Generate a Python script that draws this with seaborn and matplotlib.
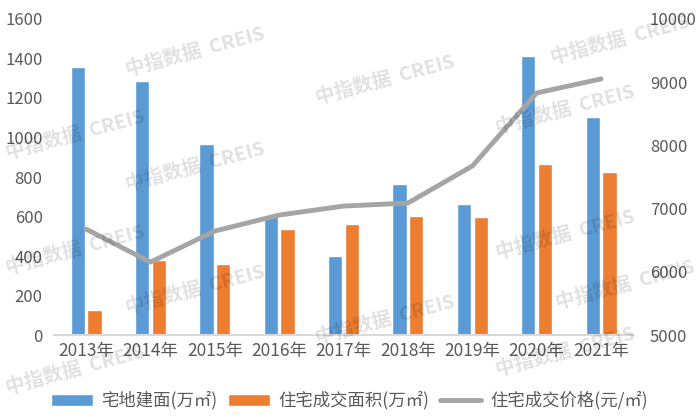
import pandas as pd
import seaborn as sns
import matplotlib.pyplot as plt
from matplotlib.patches import Patch
from matplotlib.lines import Line2D

# 数据
anos = ['2013年', '2014年', '2015年', '2016年', '2017年', '2018年', '2019年', '2020年', '2021年']
zhaidi_jianmian = [1357, 1286, 967, 608, 400, 765, 663, 1413, 1104]
zhuzhai_mianji = [127, 380, 360, 537, 562, 602, 598, 866, 825]
zhuzhai_jiage = [6677, 6155, 6646, 6899, 7041, 7089, 7674, 8829, 9051]

nome_a = '宅地建面(万㎡)'
nome_b = '住宅成交面积(万㎡)'
nome_c = '住宅成交价格(元/㎡)'

df = pd.DataFrame({
    'ano': anos * 2,
    'valor': zhaidi_jianmian + zhuzhai_mianji,
    'serie': [nome_a] * len(anos) + [nome_b] * len(anos),
})

sns.set_theme(style='white')
plt.rcParams['font.family'] = ['Noto Sans CJK SC', 'DejaVu Sans']

cor_azul = '#5B9BD5'
cor_laranja = '#ED7D31'
cor_cinza = '#A5A5A5'
cor_texto = '#595959'

fig = plt.figure(figsize=(6.99, 4.19), dpi=100)
ax = fig.add_axes([0.077, 0.2, 0.829, 0.755])

sns.barplot(data=df, x='ano', y='valor', hue='serie', palette=[cor_azul, cor_laranja],
            width=0.52, gap=0.15, ax=ax, legend=False, saturation=1)
ax.set_ylim(0, 1600)
ax.set_yticks(range(0, 1601, 200))
ax.set_xlim(-0.5, 8.5)
ax.set_xlabel('')
ax.set_ylabel('')

ax2 = ax.twinx()
sns.lineplot(x=list(range(len(anos))), y=zhuzhai_jiage, color=cor_cinza, linewidth=3.5, ax=ax2)
ax2.set_ylim(5000, 10000)
ax2.set_yticks(range(5000, 10001, 1000))
ax2.set_ylabel('')

for a in (ax, ax2):
    for s in a.spines.values():
        s.set_visible(False)
    a.tick_params(axis='both', length=0, labelsize=12, colors=cor_texto)
ax.tick_params(axis='x', labelsize=12.5, pad=5)
ax.spines['bottom'].set_visible(True)
ax.spines['bottom'].set_color('#D9D9D9')
ax.spines['bottom'].set_linewidth(1.5)
ax.tick_params(axis='y', pad=8)
ax2.tick_params(axis='y', pad=12)

handles = [
    Patch(facecolor=cor_azul, label=nome_a),
    Patch(facecolor=cor_laranja, label=nome_b),
    Line2D([0], [0], color=cor_cinza, linewidth=3.5, label=nome_c),
]
leg = fig.legend(handles=handles, loc='lower center', bbox_to_anchor=(0.5, -0.015), ncol=3,
                 frameon=False, fontsize=12.5, handlelength=2.4, columnspacing=0.6, handletextpad=0.5)
for t in leg.get_texts():
    t.set_color(cor_texto)

# 水印
marca = '中指数据  CREIS'
posicoes = [(195, 52), (195, 167), (195, 290), (385, 80), (385, 320),
            (565, 110), (565, 235), (565, 352), (75, 135), (75, 250), (75, 370),
            (620, 40), (625, 285)]
for px, py in posicoes:
    fig.text(px / 699, 1 - py / 419, marca, fontsize=14, fontweight='bold', color='black', alpha=0.12,
             rotation=15, ha='center', va='center', zorder=10)

plt.savefig('out.png', dpi=100)
